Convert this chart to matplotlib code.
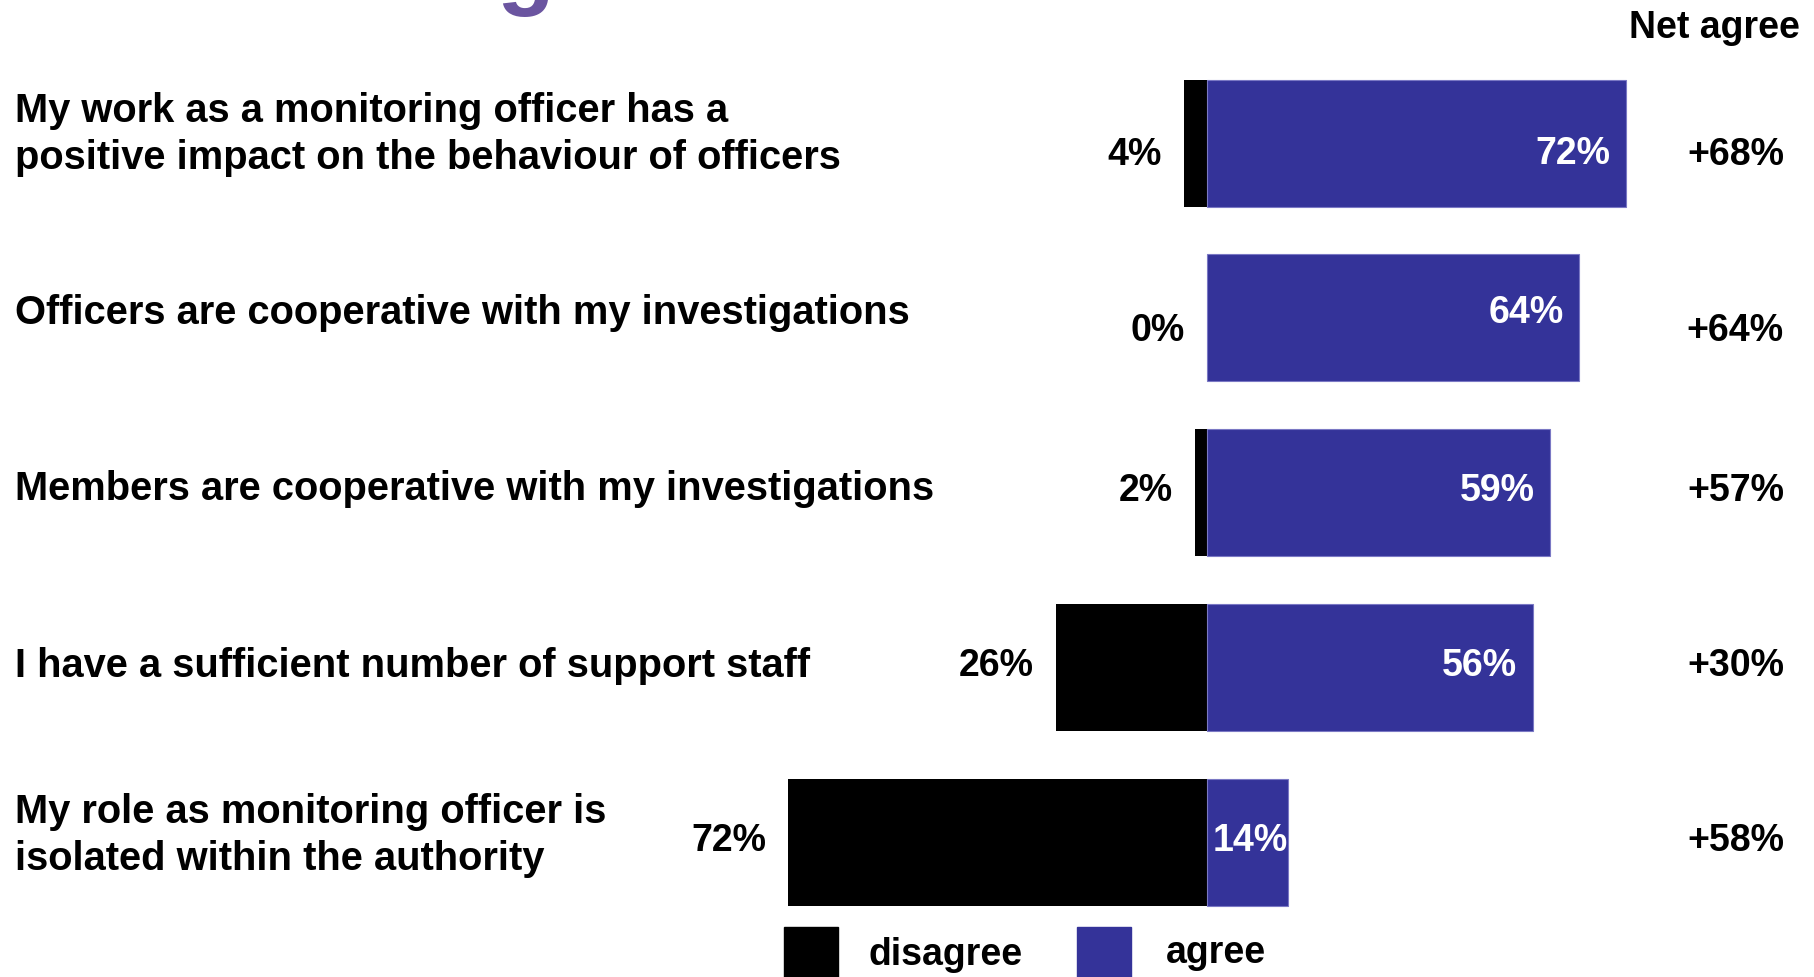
import matplotlib
matplotlib.use("Agg")
import matplotlib.pyplot as plt
from matplotlib.patches import Rectangle

plt.rcParams['font.family'] = ['Liberation Sans', 'DejaVu Sans']
plt.rcParams['font.weight'] = 'bold'

# data
statements = [
    "My work as a monitoring officer has a\npositive impact on the behaviour of officers",
    "Officers are cooperative with my investigations",
    "Members are cooperative with my investigations",
    "I have a sufficient number of support staff",
    "My role as monitoring officer is\nisolated within the authority",
]
disagree = [4, 0, 2, 26, 72]
agree = [72, 64, 59, 56, 14]
net_labels = ["+68%", "+64%", "+57%", "+30%", "+58%"]

AGREE_COL = '#343399'
FS = 27        # numbers, header, legend
FS_LAB = 28.7  # statements

W, H = 1814, 977
fig = plt.figure(figsize=(W / 100, H / 100), dpi=100)
ax = fig.add_axes([0, 0, 1, 1])

px_per_pct = 5.82
zero_px = 1207
ax.set_xlim(-zero_px / px_per_pct, (W - zero_px) / px_per_pct)
row0, row_step = 143, 174.75
ax.set_ylim((H - row0) / row_step, -row0 / row_step)
ax.axis('off')

y = list(range(len(statements)))
bar_h = 127 / row_step
ax.barh(y, [-d for d in disagree], height=bar_h, color='black', edgecolor='none')
ax.barh(y, agree, height=bar_h, color=AGREE_COL, edgecolor='#7a78c4', linewidth=0.8)

# small vertical nudges of the value labels (in rows)
side_off = [0.07, 0.075, -0.01, -0.005, -0.005]
agree_off = [0.065, -0.025, -0.01, -0.005, -0.005]
text_off = [-0.05, -0.03, -0.02, -0.01, -0.04]

gap = 22 / px_per_pct
for i in y:
    ax.text(15 / W, 1 - (row0 + row_step * (i + text_off[i])) / H, statements[i],
            transform=fig.transFigure, ha='left', va='center', fontsize=FS_LAB,
            linespacing=1.3)
    ax.text(-disagree[i] - gap, i + side_off[i], f"{disagree[i]}%",
            ha='right', va='center', fontsize=FS)
    if agree[i] >= 20:
        ax.text(agree[i] - 16 / px_per_pct, i + agree_off[i], f"{agree[i]}%",
                ha='right', va='center', fontsize=FS, color='white')
    else:
        ax.text(1, i + agree_off[i], f"{agree[i]}%",
                ha='left', va='center', fontsize=FS, color='white')
    ax.text(1784 / W, 1 - (row0 + row_step * (i + side_off[i])) / H, net_labels[i],
            transform=fig.transFigure, ha='right', va='center', fontsize=FS)

fig.text(1800 / W, 1 - 28 / H, "Net agree", ha='right', va='center', fontsize=FS)

# legend (cut off at the bottom edge)
fig.patches.append(Rectangle((784 / W, 0), 54 / W, 50 / H, transform=fig.transFigure,
                             color='black'))
fig.patches.append(Rectangle((1077 / W, 0), 54 / W, 50 / H, transform=fig.transFigure,
                             color=AGREE_COL))
fig.text(869 / W, 1 - 955 / H, "disagree", ha='left', va='center', fontsize=FS)
fig.text(1166 / W, 1 - 953 / H, "agree", ha='left', va='center', fontsize=FS)

# tail of the cropped title above the chart
fig.text(496 / W, 1 + 3 / H, "g", ha='left', va='baseline', fontsize=68,
         color='#6b55a0')

fig.savefig("out.png", dpi=100)
